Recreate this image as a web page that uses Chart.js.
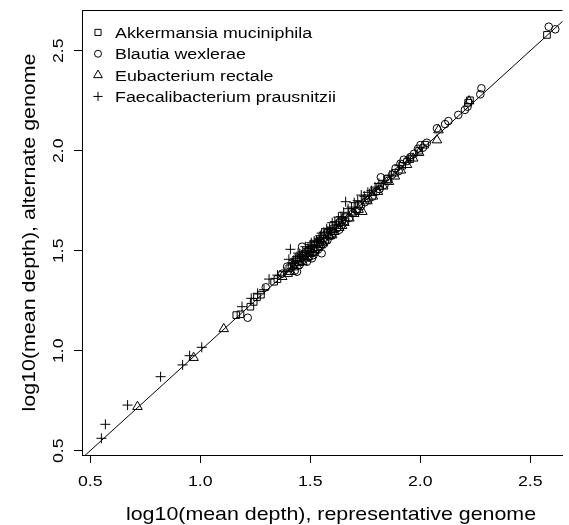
<!DOCTYPE html>
<html>
<head>
<meta charset="utf-8">
<script src="https://cdn.jsdelivr.net/npm/chart.js@4.4.1/dist/chart.umd.min.js"></script>
<style>
  html, body { margin: 0; padding: 0; background: #fff; }
  canvas { display: block; }
</style>
</head>
<body>
<canvas id="depth" width="569" height="525"></canvas>
<script>
// [log10 depth on representative genome, log10 depth on alternate genome]
var akkermansia = [
  [1.164,1.178],[1.183,1.182],[1.228,1.220],[1.243,1.244],[1.258,1.267],[1.276,1.280],[1.336,1.345],
  [1.351,1.358],[1.405,1.412],[1.415,1.420],[1.428,1.430],[1.448,1.455],[1.458,1.465],[1.470,1.475],
  [1.492,1.498],[1.505,1.508],[1.515,1.512],[1.535,1.540],[1.545,1.550],[1.558,1.562],[1.580,1.590],
  [1.595,1.600],[1.605,1.608],[1.632,1.638],[1.645,1.652],[1.660,1.668],[1.690,1.695],[1.722,1.730],
  [1.755,1.762],[1.785,1.792],[1.818,1.822],[1.850,1.858],[1.885,1.890],[1.918,1.925],[1.955,1.958],
  [1.995,2.000],[2.022,2.030],[2.218,2.240],[2.226,2.252],[2.576,2.579]
];
var blautia = [
  [1.216,1.165],[1.298,1.317],[1.372,1.385],[1.395,1.420],[1.430,1.400],[1.440,1.395],[1.452,1.430],
  [1.463,1.520],[1.470,1.455],[1.485,1.445],[1.495,1.468],[1.508,1.462],[1.515,1.478],[1.525,1.500],
  [1.535,1.505],[1.540,1.522],[1.552,1.487],[1.558,1.530],[1.568,1.548],[1.578,1.552],[1.585,1.572],
  [1.598,1.575],[1.605,1.590],[1.622,1.612],[1.632,1.605],[1.642,1.628],[1.660,1.648],[1.678,1.665],
  [1.695,1.688],[1.712,1.700],[1.730,1.722],[1.748,1.742],[1.765,1.755],[1.782,1.770],[1.800,1.795],
  [1.815,1.808],[1.821,1.867],[1.838,1.830],[1.855,1.850],[1.872,1.880],[1.888,1.912],[1.902,1.898],
  [1.910,1.935],[1.925,1.955],[1.940,1.948],[1.955,1.968],[1.972,1.985],[1.990,2.010],[2.001,2.028],
  [2.012,2.015],[2.030,2.040],[2.076,2.112],[2.113,2.133],[2.128,2.148],[2.173,2.179],[2.203,2.204],
  [2.215,2.220],[2.273,2.282],[2.278,2.312],[2.584,2.620],[2.614,2.607]
];
var eubacterium = [
  [0.715,0.720],[0.970,0.965],[1.107,1.109],[1.373,1.370],[1.398,1.385],[1.412,1.395],[1.425,1.418],
  [1.440,1.425],[1.450,1.440],[1.465,1.445],[1.475,1.462],[1.488,1.470],[1.498,1.485],[1.510,1.490],
  [1.520,1.505],[1.535,1.515],[1.545,1.530],[1.558,1.538],[1.565,1.552],[1.588,1.575],[1.600,1.578],
  [1.610,1.595],[1.632,1.615],[1.645,1.625],[1.655,1.640],[1.678,1.662],[1.700,1.685],[1.720,1.705],
  [1.737,1.695],[1.760,1.748],[1.785,1.772],[1.808,1.795],[1.832,1.822],[1.858,1.845],[1.885,1.872],
  [1.912,1.902],[1.940,1.930],[1.968,1.962],[1.995,1.990],[2.076,2.053],[2.083,2.103],[2.222,2.248]
];
var faecalibacterium = [
  [0.551,0.562],[0.569,0.632],[0.670,0.728],[0.820,0.870],[0.920,0.929],[0.952,0.975],[1.007,1.017],
  [1.190,1.220],[1.232,1.262],[1.261,1.287],[1.290,1.305],[1.313,1.358],[1.351,1.378],[1.381,1.395],
  [1.403,1.457],[1.410,1.507],[1.418,1.440],[1.425,1.452],[1.432,1.462],[1.440,1.470],[1.445,1.488],
  [1.452,1.478],[1.462,1.472],[1.466,1.495],[1.478,1.520],[1.485,1.500],[1.490,1.512],[1.500,1.530],
  [1.505,1.540],[1.508,1.522],[1.518,1.548],[1.528,1.552],[1.533,1.545],[1.540,1.562],[1.546,1.575],
  [1.552,1.588],[1.562,1.592],[1.575,1.610],[1.580,1.598],[1.588,1.612],[1.600,1.640],[1.612,1.645],
  [1.620,1.632],[1.628,1.668],[1.640,1.670],[1.645,1.660],[1.652,1.692],[1.661,1.745],[1.672,1.710],
  [1.688,1.718],[1.700,1.740],[1.716,1.750],[1.732,1.778],[1.746,1.772],[1.762,1.792],[1.778,1.800],
  [1.795,1.818],[1.812,1.836],[1.835,1.852],[1.862,1.878],[1.905,1.925],[1.948,1.960]
];
var speciesNames = ['Akkermansia muciniphila', 'Blautia wexlerae', 'Eubacterium rectale', 'Faecalibacterium prausnitzii'];
var tickValues = [0.5, 1.0, 1.5, 2.0, 2.5];
var tickLabels = ['0.5', '1.0', '1.5', '2.0', '2.5'];
var identity = [0.3, 2.9];   // y = x reference line
var xTitle = 'log10(mean depth), representative genome';
var yTitle = 'log10(mean depth), alternate genome';

var FONT = '"Liberation Sans", Arial, Helvetica, sans-serif';
var WIDEN = 1.15;   // text is set a little wider than the font's own advance

// open symbols: square, circle, triangle, plus
var symbols = [
  { pointStyle: 'rect', radius: 4.7 },
  { pointStyle: 'circle', radius: 3.8 },
  { pointStyle: 'triangle', radius: 5.5 },
  { pointStyle: 'cross', radius: 5.0 }
];

function toPoints(pairs) {
  return pairs.map(function (p) { return { x: p[0], y: p[1] }; });
}

function label(ctx, str, x, y, size, align, angle) {
  ctx.save();
  ctx.translate(x, y);
  if (angle) ctx.rotate(angle);
  ctx.scale(WIDEN, 1);
  ctx.font = size + 'px ' + FONT;
  ctx.textAlign = align;
  ctx.textBaseline = 'alphabetic';
  ctx.fillStyle = '#000';
  ctx.fillText(str, 0, 0);
  ctx.restore();
}

// box top, tick labels, axis titles and the legend
var decorations = {
  id: 'decorations',
  afterDraw: function (chart) {
    var ctx = chart.ctx, a = chart.chartArea;
    var xs = chart.scales.x, ys = chart.scales.y;
    ctx.save();
    ctx.strokeStyle = '#000';
    ctx.lineWidth = 1;
    ctx.beginPath();
    ctx.moveTo(a.left, a.top + 0.5);
    ctx.lineTo(a.right, a.top + 0.5);
    ctx.stroke();
    ctx.restore();

    for (var i = 0; i < tickValues.length; i++) {
      label(ctx, tickLabels[i], xs.getPixelForValue(tickValues[i]), 485.7, 15.4, 'center');
      label(ctx, tickLabels[i], 63, ys.getPixelForValue(tickValues[i]), 15.4, 'center', -Math.PI / 2);
    }
    label(ctx, xTitle, 331, 520, 18.6, 'center');
    label(ctx, yTitle, 35, (a.top + a.bottom) / 2, 18.6, 'center', -Math.PI / 2);

    for (var k = 0; k < speciesNames.length; k++) {
      var base = 37.8 + k * 21.35;
      ctx.save();
      ctx.strokeStyle = '#000';
      ctx.fillStyle = 'rgba(0,0,0,0)';
      ctx.lineWidth = 1;
      Chart.helpers.drawPoint(ctx, {
        pointStyle: symbols[k].pointStyle, radius: symbols[k].radius * 0.92, borderWidth: 1, rotation: 0
      }, 98, base - 5.4);
      ctx.restore();
      label(ctx, speciesNames[k], 115, base, 15.5, 'left');
    }
  }
};

var seriesData = [akkermansia, blautia, eubacterium, faecalibacterium];
var datasets = [{
  label: 'y = x',
  data: identity.map(function (v) { return { x: v, y: v }; }),
  showLine: true,
  pointRadius: 0,
  borderColor: '#000',
  borderWidth: 1
}];
for (var s = 0; s < seriesData.length; s++) {
  datasets.push({
    label: speciesNames[s],
    data: toPoints(seriesData[s]),
    pointStyle: symbols[s].pointStyle,
    pointRadius: symbols[s].radius,
    pointHoverRadius: symbols[s].radius,
    pointBorderWidth: 1,
    pointBorderColor: '#000',
    pointBackgroundColor: 'rgba(0,0,0,0)'
  });
}

function axisOptions(min, max, fit) {
  return {
    type: 'linear',
    min: min,
    max: max,
    afterBuildTicks: function (scale) {
      scale.ticks = tickValues.map(function (v) { return { value: v }; });
    },
    afterFit: fit,
    ticks: { display: false },
    grid: { drawOnChartArea: false, drawTicks: true, tickLength: 8, tickColor: '#000', color: '#000', lineWidth: 1 },
    border: { display: true, color: '#000', width: 1 }
  };
}

new Chart(document.getElementById('depth'), {
  type: 'scatter',
  data: { datasets: datasets },
  plugins: [decorations],
  options: {
    responsive: false,
    animation: false,
    devicePixelRatio: 1,
    layout: { padding: { top: 10, left: 0, right: 0, bottom: 0 } },
    plugins: { legend: { display: false }, tooltip: { enabled: false } },
    scales: {
      x: axisOptions(0.4628, 2.6466, function (scale) { scale.height = 70; }),
      y: axisOptions(0.4785, 2.7035, function (scale) { scale.width = 82; })
    }
  }
});
</script>
</body>
</html>
